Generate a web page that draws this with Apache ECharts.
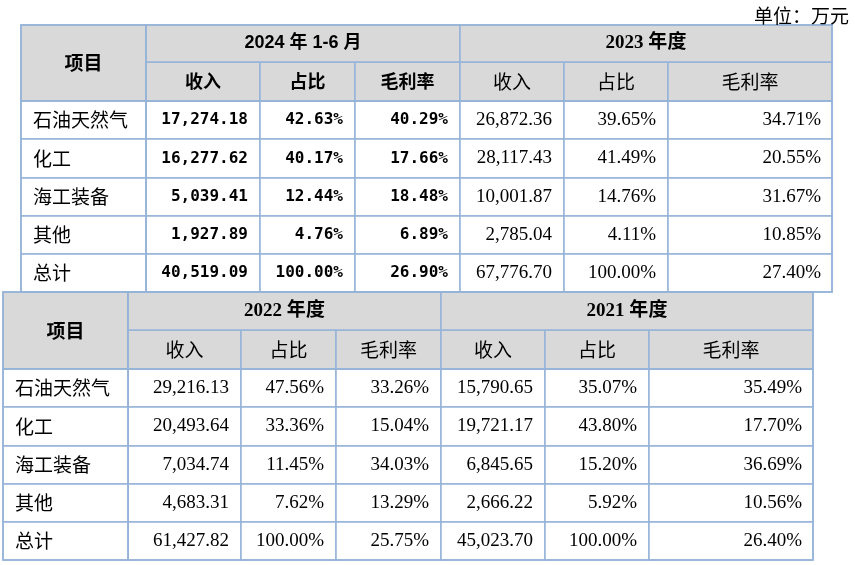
<!DOCTYPE html>
<html>
<head>
<meta charset="utf-8">
<script src="https://cdn.jsdelivr.net/npm/echarts@6/dist/echarts.min.js"></script>
<style>
  html, body { margin: 0; padding: 0; background: #fff; }
  #main { width: 855px; height: 565px; }
</style>
</head>
<body>
<div id="main"></div>
<script>
// 数据
var items = ['石油天然气', '化工', '海工装备', '其他', '总计'];
var periods = ['2024 年 1-6 月', '2023 年度', '2022 年度', '2021 年度'];
var metrics = ['收入', '占比', '毛利率'];
var unitText = '单位：万元';

var revenue2024 = [17274.18, 16277.62, 5039.41, 1927.89, 40519.09];
var share2024 = [42.63, 40.17, 12.44, 4.76, 100.00];
var margin2024 = [40.29, 17.66, 18.48, 6.89, 26.90];

var revenue2023 = [26872.36, 28117.43, 10001.87, 2785.04, 67776.70];
var share2023 = [39.65, 41.49, 14.76, 4.11, 100.00];
var margin2023 = [34.71, 20.55, 31.67, 10.85, 27.40];

var revenue2022 = [29216.13, 20493.64, 7034.74, 4683.31, 61427.82];
var share2022 = [47.56, 33.36, 11.45, 7.62, 100.00];
var margin2022 = [33.26, 15.04, 34.03, 13.29, 25.75];

var revenue2021 = [15790.65, 19721.17, 6845.65, 2666.22, 45023.70];
var share2021 = [35.07, 43.80, 15.20, 5.92, 100.00];
var margin2021 = [35.49, 17.70, 36.69, 10.56, 26.40];

function fmtMoney(v) {
  return v.toLocaleString('en-US', { minimumFractionDigits: 2, maximumFractionDigits: 2 });
}
function fmtPct(v) {
  return v.toFixed(2) + '%';
}

var borderColor = '#95b3d7';
var headBg = '#d9d9d9';
var serif = "'Liberation Serif', 'Noto Sans CJK SC'";
var cjk = "'Noto Sans CJK SC'";
var sans = "'Liberation Sans', 'Noto Sans CJK SC'";

var boldMono = { fontFamily: 'DejaVu Sans Mono', fontWeight: 'bold', fontSize: 16, color: '#000' };
var plainSerif = { fontFamily: serif, fontWeight: 'normal', fontSize: 19, color: '#000' };

// 表体：每个期间 3 列（收入、占比、毛利率）
function bodyData(groups) {
  var out = [];
  groups.forEach(function (g, gi) {
    var cols = [g.revenue.map(fmtMoney), g.share.map(fmtPct), g.margin.map(fmtPct)];
    cols.forEach(function (col, mi) {
      col.forEach(function (txt, ri) {
        out.push({
          coord: [gi * 3 + mi, ri],
          value: txt,
          label: Object.assign({ position: 'insideRight', distance: mi === 2 && gi === 1 ? 8 : 9 }, g.style)
        });
      });
    });
  });
  return out;
}

function makeMatrix(cfg) {
  return {
    left: cfg.left,
    top: cfg.top,
    width: cfg.width,
    height: cfg.height,
    x: {
      levels: [{ levelSize: cfg.head[0] }, { levelSize: cfg.head[1] }],
      data: cfg.periods.map(function (p, pi) {
        var bold = cfg.boldSub[pi];
        return {
          value: p,
          label: bold
            ? { fontFamily: sans, fontWeight: 'bold', fontSize: 18 }
            : { fontFamily: serif, fontWeight: 'bold', fontSize: 19 },
          children: metrics.map(function (m, mi) {
            // 同名子列需唯一，追加零宽字符
            return {
              value: m + new Array(pi + 1).join('\u200b'),
              size: cfg.cols[pi * 3 + mi],
              label: bold
                ? { fontFamily: cjk, fontWeight: 'bold', fontSize: 18 }
                : { fontFamily: cjk, fontWeight: 'normal', fontSize: 19 }
            };
          })
        };
      }),
      label: { fontFamily: cjk, fontSize: 19, color: '#000' },
      itemStyle: { color: headBg, borderColor: borderColor, borderWidth: 1.5 },
      dividerLineStyle: { color: borderColor, width: 1.5 }
    },
    y: {
      levelSize: cfg.first,
      data: items.map(function (it) { return { value: it, size: cfg.row }; }),
      label: { position: 'insideLeft', distance: 9, fontFamily: cjk, fontSize: 19, color: '#000' },
      itemStyle: { color: '#fff', borderColor: borderColor, borderWidth: 1.5 },
      dividerLineStyle: { color: borderColor, width: 1.5 }
    },
    corner: {
      data: [{ coord: [-1, [-2, -1]], mergeCells: true, value: '项目' }],
      label: { fontFamily: cjk, fontWeight: 'bold', fontSize: 19, color: '#000' },
      itemStyle: { color: headBg, borderColor: borderColor, borderWidth: 1.5 }
    },
    body: {
      data: bodyData(cfg.groups),
      itemStyle: { color: '#fff', borderColor: borderColor, borderWidth: 1.5 }
    },
    backgroundStyle: { borderColor: borderColor, borderWidth: 1.5 }
  };
}

var topTable = makeMatrix({
  left: 21, top: 25, width: 811, height: 267,
  head: [37, 39], first: 125, row: 38.2,
  cols: [114, 95, 105, 104, 104, 164],
  periods: [periods[0], periods[1]],
  boldSub: [true, false],
  groups: [
    { revenue: revenue2024, share: share2024, margin: margin2024, style: boldMono },
    { revenue: revenue2023, share: share2023, margin: margin2023, style: plainSerif }
  ]
});

var bottomTable = makeMatrix({
  left: 3, top: 292, width: 810, height: 268,
  head: [38, 39], first: 125, row: 38.2,
  cols: [113, 95, 105, 104, 104, 164],
  periods: [periods[2], periods[3]],
  boldSub: [false, false],
  groups: [
    { revenue: revenue2022, share: share2022, margin: margin2022, style: plainSerif },
    { revenue: revenue2021, share: share2021, margin: margin2021, style: plainSerif }
  ]
});

var chart = echarts.init(document.getElementById('main'));
chart.setOption({
  backgroundColor: '#fff',
  animation: false,
  title: {
    text: unitText,
    right: 1,
    top: 1,
    textStyle: { fontFamily: cjk, fontSize: 19, fontWeight: 'normal', color: '#000' }
  },
  matrix: [topTable, bottomTable]
});
</script>
</body>
</html>
